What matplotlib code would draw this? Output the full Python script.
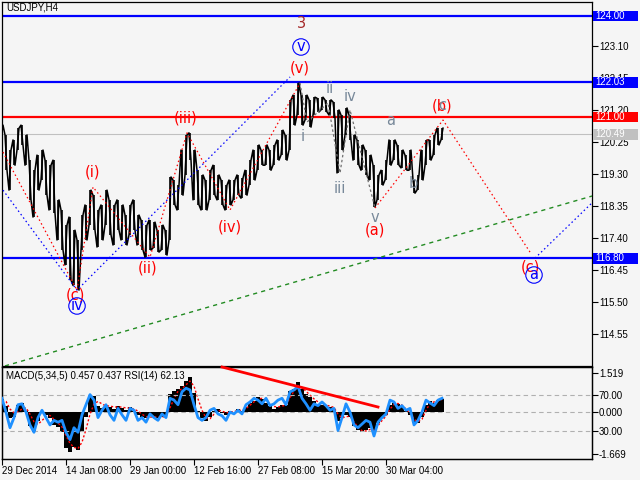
import numpy as np
import matplotlib
matplotlib.use('Agg')
import matplotlib.pyplot as plt
from matplotlib.patches import Rectangle

plt.rcParams['font.family'] = ['Liberation Sans', 'DejaVu Sans']

symbol = 'USDJPY,H4'
step = 4  # H4 bars per sample

# price range per sample (high / low)
price_hi = [120.76, 120.47, 120.02, 120.32, 120.67, 120.76, 120.47, 119.72, 119.42, 119.87,
            120.02, 119.72, 119.57, 119.72, 118.54, 118.24, 117.79, 118.03, 117.64, 117.35,
            118.09, 118.39, 118.83, 118.68, 118.24, 118.39, 118.83, 118.54, 118.39, 118.54,
            118.39, 118.09, 118.39, 118.54, 118.09, 117.94, 117.79, 117.94, 117.88, 117.64,
            117.79, 117.64, 119.22, 119.13, 118.98, 120.02, 120.47, 120.53, 120.02, 119.42,
            119.28, 119.13, 119.42, 119.57, 119.28, 119.13, 118.98, 119.13, 119.13, 119.28,
            119.19, 119.42, 119.72, 120.02, 120.17, 120.02, 120.17, 120.02, 120.17, 120.32,
            120.61, 120.47, 121.51, 121.65, 122.01, 121.65, 121.65, 121.51, 121.59, 121.56,
            121.59, 121.51, 121.51, 121.45, 121.21, 121.06, 121.27, 121.06, 120.47, 120.32,
            120.17, 120.02, 119.87, 119.57, 119.28, 119.42, 119.72, 120.32, 120.32, 120.17,
            120.02, 119.87, 120.02, 119.13, 119.28, 120.02, 120.32, 120.32, 120.47, 120.67,
            120.67]
price_lo = [120.32, 119.42, 118.83, 119.57, 120.02, 120.17, 119.57, 118.54, 118.03, 118.83,
            119.13, 118.68, 118.24, 118.15, 117.35, 117.05, 116.61, 116.16, 116.00, 115.86,
            117.05, 117.35, 117.79, 117.64, 117.14, 117.35, 117.79, 117.50, 117.20, 117.64,
            117.35, 117.20, 117.50, 117.64, 117.20, 117.05, 116.84, 117.05, 117.11, 116.99,
            117.05, 116.90, 117.35, 118.39, 118.24, 118.68, 119.28, 119.72, 118.54, 118.39,
            118.24, 118.24, 118.54, 118.68, 118.54, 118.39, 118.24, 118.39, 118.54, 118.68,
            118.59, 118.68, 118.98, 119.13, 119.42, 119.57, 119.57, 119.42, 119.57, 119.72,
            119.87, 119.72, 120.02, 120.76, 121.06, 120.76, 120.91, 120.70, 121.06, 121.15,
            121.21, 121.15, 121.06, 120.97, 119.34, 120.02, 120.47, 120.32, 119.72, 119.57,
            119.42, 119.28, 119.13, 118.33, 118.54, 118.98, 119.13, 119.57, 119.72, 119.57,
            119.49, 119.42, 119.42, 118.74, 118.83, 119.13, 119.57, 119.72, 119.87, 120.17,
            120.32]

macd = [0.51, 0.23, -0.27, -0.20, 0.27, 0.35, 0.04, -0.55, -0.82, -0.35,
        -0.04, -0.12, -0.27, -0.51, -0.62, -0.82, -1.44, -1.60, -1.37, -1.52,
        -0.82, -0.20, 0.59, 0.62, 0.23, 0.16, 0.27, 0.20, 0.12, 0.23,
        0.16, 0.08, 0.20, 0.04, -0.12, -0.23, -0.27, -0.16, -0.20, -0.27,
        -0.20, -0.12, 0.70, 0.82, 0.90, 1.01, 1.21, 1.37, 0.74, 0.04,
        -0.27, -0.35, -0.20, 0.04, 0.12, -0.04, -0.12, 0.04, 0.00, 0.12,
        0.04, 0.20, 0.35, 0.43, 0.59, 0.51, 0.35, 0.23, 0.12, 0.20,
        0.27, 0.27, 0.82, 0.90, 1.17, 0.90, 0.70, 0.59, 0.43, 0.31,
        0.27, 0.23, 0.20, 0.12, -0.35, -0.27, -0.12, -0.20, -0.55, -0.74,
        -0.82, -0.74, -0.66, -0.82, -0.43, -0.27, -0.12, 0.27, 0.35, 0.31,
        0.20, 0.04, -0.12, -0.43, -0.43, -0.20, 0.27, 0.43, 0.35, 0.47,
        0.51]
signal = [0.45, 0.40, 0.10, -0.05, 0.00, 0.10, 0.15, -0.10, -0.40, -0.50,
          -0.35, -0.20, -0.15, -0.30, -0.45, -0.60, -0.95, -1.25, -1.40, -1.45,
          -1.20, -0.70, -0.10, 0.30, 0.40, 0.30, 0.22, 0.22, 0.18, 0.18,
          0.18, 0.14, 0.14, 0.10, 0.02, -0.10, -0.20, -0.22, -0.20, -0.22,
          -0.22, -0.18, 0.15, 0.50, 0.80, 0.90, 1.05, 1.20, 1.00, 0.50,
          0.05, -0.25, -0.28, -0.10, 0.05, 0.02, -0.05, -0.02, 0.00, 0.05,
          0.05, 0.12, 0.25, 0.38, 0.50, 0.52, 0.45, 0.30, 0.20, 0.18,
          0.22, 0.25, 0.55, 0.80, 1.00, 0.95, 0.80, 0.65, 0.50, 0.38,
          0.30, 0.25, 0.22, 0.16, -0.10, -0.25, -0.20, -0.18, -0.40, -0.62,
          -0.75, -0.76, -0.70, -0.74, -0.55, -0.35, -0.18, 0.10, 0.28, 0.32,
          0.25, 0.10, -0.05, -0.30, -0.40, -0.30, 0.05, 0.32, 0.38, 0.42,
          0.48]
rsi = [66, 51, 34, 45, 59, 60, 51, 37, 29, 45,
       53, 45, 37, 42, 40, 42, 29, 21, 34, 29,
       48, 59, 70, 64, 45, 53, 59, 48, 42, 55,
       48, 42, 55, 53, 42, 45, 40, 49, 45, 42,
       49, 45, 66, 64, 59, 73, 77, 75, 59, 45,
       42, 45, 53, 55, 49, 47, 42, 51, 49, 53,
       49, 59, 62, 66, 64, 60, 66, 58, 60, 64,
       66, 59, 73, 75, 79, 66, 60, 53, 60, 58,
       62, 58, 53, 55, 31, 45, 60, 51, 37, 34,
       38, 42, 40, 25, 40, 45, 49, 64, 62, 55,
       58, 53, 55, 37, 42, 51, 64, 61, 58, 64,
       66]

date_ticks = [0, 64, 128, 192, 256, 320, 384]
date_labels = ['29 Dec 2014', '14 Jan 08:00', '29 Jan 00:00', '12 Feb 16:00',
               '27 Feb 08:00', '15 Mar 20:00', '30 Mar 04:00']
price_ticks = [114.55, 115.50, 116.45, 117.40, 118.35, 119.30, 120.25, 121.20, 122.15, 123.10]

levels = [124.00, 122.03, 121.00, 116.80]
level_colors = ['#0000ff', '#0000ff', '#ff0000', '#0000ff']
last_price = 120.49

# wave count lines (bar, price)
red_wave_bars = [1, 75, 91, 148, 185, 228, 298]
red_wave_prices = [119.96, 115.86, 118.92, 116.84, 120.53, 118.24, 122.01]
red_abc_bars = [373, 441, 528]
red_abc_prices = [118.30, 120.91, 116.99]
gray_sub_bars = [298, 305, 326, 338, 348, 373]
gray_sub_prices = [122.01, 120.85, 121.42, 119.34, 121.21, 118.30]
blue_a_bars = [1, 75, 288]
blue_a_prices = [118.83, 115.86, 122.19]
blue_b_bars = [533, 600]
blue_b_prices = [116.81, 118.74]
trend_bars = [3, 600]
trend_prices = [113.61, 118.74]
rsi_trend_bars = [220, 376]
rsi_trend_vals = [100, 56.5]

# labels: text, bar, price, colour, circled
wave_labels = [
    ('3', 300, 123.79, '#a52a2a', False),
    ('v', 299, 123.08, '#0000ff', True),
    ('(v)', 298, 122.46, '#ff0000', False),
    ('(iii)', 184, 120.97, '#ff0000', False),
    ('(i)', 91, 119.37, '#ff0000', False),
    ('(iv)', 228, 117.74, '#ff0000', False),
    ('(ii)', 146, 116.52, '#ff0000', False),
    ('(c)', 73, 115.72, '#ff0000', False),
    ('iv', 75, 115.39, '#0000ff', True),
    ('ii', 328, 121.86, '#778899', False),
    ('iv', 348, 121.60, '#778899', False),
    ('i', 301, 120.41, '#778899', False),
    ('iii', 338, 118.89, '#778899', False),
    ('v', 373, 118.03, '#778899', False),
    ('(a)', 373, 117.65, '#ff0000', False),
    ('a', 389, 120.91, '#778899', False),
    ('b', 411, 119.04, '#778899', False),
    ('(b)', 440, 121.33, '#ff0000', False),
    ('c', 440, 121.33, '#778899', False),
    ('(c)', 528, 116.55, '#ff0000', False),
    ('a', 532, 116.31, '#0000ff', True),
]

bg = '#f5f5f5'
fig = plt.figure(figsize=(6.4, 4.8), dpi=100, facecolor=bg)
ax = fig.add_axes([2 / 640, 1 - 366 / 480, 590 / 640, 364 / 480], facecolor=bg)
axi = fig.add_axes([2 / 640, 1 - 459 / 480, 590 / 640, 92 / 480], facecolor=bg)

bars = np.arange(len(price_hi)) * step

# price: dense zigzag through the highs/lows
xs, ys = [], []
for i, b in enumerate(bars):
    if i % 2 == 0:
        xs += [b - 1, b + 1]
        ys += [price_lo[i], price_hi[i]]
    else:
        xs += [b - 1, b + 1]
        ys += [price_hi[i], price_lo[i]]
ax.vlines(bars, price_lo, price_hi, color='black', lw=1.2, zorder=3)
ax.plot(xs, ys, color='black', lw=1.1, zorder=3)

# horizontal levels
for lv, c in zip(levels, level_colors):
    ax.axhline(lv, color=c, lw=1.6, zorder=2)
ax.axhline(last_price, color='#c0c0c0', lw=0.8, zorder=1)

# wave lines
dot = (0, (1.2, 2.2))
ax.plot(red_wave_bars, red_wave_prices, color='red', lw=0.9, ls=dot, zorder=4)
ax.plot(red_abc_bars, red_abc_prices, color='red', lw=0.9, ls=dot, zorder=4)
ax.plot(gray_sub_bars, gray_sub_prices, color='#707070', lw=0.9, ls=(0, (2, 2)), zorder=4)
ax.plot(blue_a_bars, blue_a_prices, color='blue', lw=0.9, ls=dot, zorder=4)
ax.plot(blue_b_bars, blue_b_prices, color='blue', lw=0.9, ls=dot, zorder=4)
ax.plot(trend_bars, trend_prices, color='#228b22', lw=1.0, ls=(0, (3, 3)), zorder=4)

for txt, b, p, c, circ in wave_labels:
    kw = dict(color=c, fontsize=10.5, ha='center', va='center', family='DejaVu Sans', zorder=6)
    if circ:
        kw['bbox'] = dict(boxstyle='circle,pad=0.05', fc='none', ec='#0000ff', lw=0.8)
    ax.text(b, p, txt, **kw)

ax.set_xlim(0, 590)
ax.set_ylim(113.608, 124.416)
ax.set_xticks([])
ax.yaxis.tick_right()
ax.set_yticks(price_ticks)
ax.set_yticklabels([f'{t:.2f}' for t in price_ticks])
ax.tick_params(axis='y', direction='out', length=4, width=0.8, labelsize=7, pad=1)

# price boxes on the right
ytr = ax.get_yaxis_transform()
for lv, c in list(zip(levels, level_colors)) + [(last_price, '#c0c0c0')]:
    ax.add_patch(Rectangle((1.0025, lv - 0.16), 0.0755, 0.32, transform=ytr,
                           fc=c, ec='none', clip_on=False, zorder=7))
    ax.text(1.006, lv, f'{lv:.2f}', transform=ytr, color='white', fontsize=7,
            va='center', ha='left', clip_on=False, zorder=8)

fig.text(6 / 640, 1 - 8 / 480, symbol, fontsize=7, va='center', ha='left')

# indicator window
axr = axi.twinx()
axi.bar(bars, macd, width=step, color='black', zorder=2)
axi.plot(bars, signal, color='red', lw=1.0, ls=(0, (1.5, 1.5)), zorder=3)
axi.axhline(0, color='#b0b0b0', lw=0.8, ls=(0, (4, 3)), zorder=1)
axi.set_xlim(0, 590)
axi.set_ylim(-1.86, 1.75)
axi.yaxis.tick_right()
axi.set_yticks([1.519, 0, -1.669])
axi.set_yticklabels(['1.519', '0.000', '-1.669'])
axi.tick_params(axis='y', direction='out', length=4, width=0.8, labelsize=7, pad=1)
axi.set_xticks(date_ticks)
axi.set_xticklabels(date_labels, ha='left')
axi.tick_params(axis='x', direction='out', length=4, width=0.8, labelsize=7, pad=1)

axr.set_facecolor('none')
axr.axhline(70, color='#b0b0b0', lw=0.8, ls=(0, (4, 3)), zorder=1)
axr.axhline(30, color='#b0b0b0', lw=0.8, ls=(0, (4, 3)), zorder=1)
axr.plot(bars, rsi, color='#1e90ff', lw=2.0, zorder=3)
axr.plot(rsi_trend_bars, rsi_trend_vals, color='red', lw=2.0, zorder=4, clip_on=False)
axr.set_ylim(0, 100)
axr.set_xlim(0, 590)
axr.set_yticks([70, 30])
axr.set_yticklabels(['70.00', '30.00'])
axr.tick_params(axis='y', direction='out', length=4, width=0.8, labelsize=7, pad=1)

axr.text(0.006, 0.9, 'MACD(5,34,5) 0.457 0.437 RSI(14) 62.13', transform=axr.transAxes,
         fontsize=7, va='center', ha='left', zorder=6)

for a in (ax, axi, axr):
    for s in a.spines.values():
        s.set_linewidth(0.9)

fig.savefig('out.png', dpi=100, facecolor=bg)
